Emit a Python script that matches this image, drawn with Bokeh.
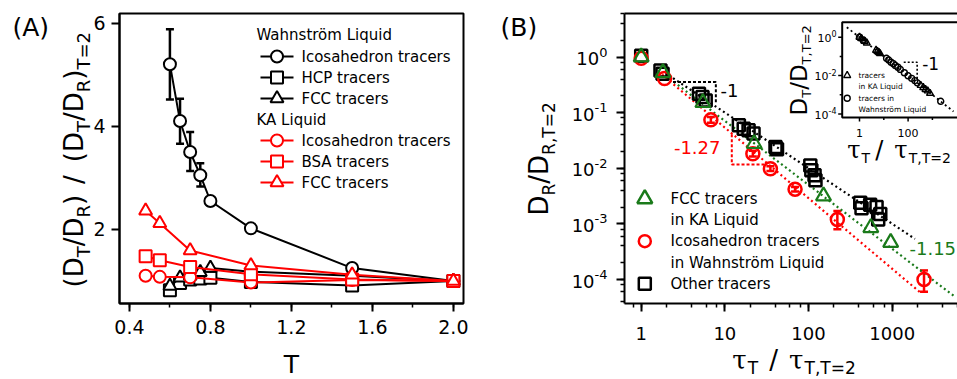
import math
from bokeh.plotting import figure
from bokeh.layouts import row
from bokeh.models import (ColumnDataSource, Whisker, TeeHead, Label, LinearAxis, LogAxis,
                          SingleIntervalTicker, PrintfTickFormatter, CustomJSTickFormatter,
                          Range1d, LogScale, LinearScale)
from bokeh.embed import file_html
from bokeh.resources import INLINE

FONT = "DejaVu Sans"
SERIF = "DejaVu Serif"
GREEN = "#1a7a1a"
RED = "#ff0000"

# ---------------- Panel A: (DT/DR)/(DT/DR)_{T=2} versus T ----------------
T_wahn = [0.6, 0.65, 0.7, 0.75, 0.8, 1.0, 1.5, 2.0]
wahn_ico = [5.2, 4.1, 3.5, 3.05, 2.55, 2.02, 1.25, 1.0]
wahn_hcp = [0.82, 0.96, 1.03, 1.05, 1.06, 0.98, 0.91, 1.0]
wahn_fcc = [0.9, 1.06, 1.1, 1.17, 1.25, 1.18, 1.1, 1.0]
T_err = [0.6, 0.65, 0.7, 0.75, 0.8]
wahn_ico_hi = [5.88, 4.53, 3.89, 3.28, 2.62]
wahn_ico_lo = [4.52, 3.66, 3.13, 2.83, 2.47]

T_ka = [0.48, 0.55, 0.7, 1.0, 1.5, 2.0]
ka_ico = [1.10, 1.08, 1.07, 0.97, 1.02, 1.0]
ka_bsa = [1.48, 1.40, 1.27, 1.13, 1.03, 1.0]
ka_fcc = [2.36, 2.12, 1.59, 1.30, 1.12, 1.0]

A_LEGEND_W = ["Icosahedron tracers", "HCP tracers", "FCC tracers"]
A_LEGEND_KA = ["Icosahedron tracers", "BSA tracers", "FCC tracers"]

# ---------------- Panel B: DR/DR,T=2 versus tau_T/tau_T,T=2 ----------------
fcc_tau = [1.0, 1.82, 5.46, 22.4, 151, 555, 959]
fcc_D = [1.0, 0.52, 0.151, 0.0276, 0.00316, 0.00085, 0.00046]

ico_tau = [1.0, 1.9, 6.8, 21.6, 35, 69, 221, 2400]
ico_D = [0.95, 0.41, 0.074, 0.0182, 0.0098, 0.0042, 0.0012, 0.0001]
ico_err_tau = [6.8, 21.6, 35, 69, 221, 2400]
ico_err_hi = [0.083, 0.0205, 0.0108, 0.0046, 0.0017, 0.000145]
ico_err_lo = [0.066, 0.0162, 0.0089, 0.0038, 0.00080, 0.00006]

other_tau = [1.0, 1.7, 1.8, 4.9, 5.4, 5.9, 14.7, 16.8, 19.2, 22.0, 40.3, 42.0,
             105, 108, 118, 121, 415, 430, 545, 650, 680, 720]
other_D = [1.05, 0.57, 0.50, 0.218, 0.19, 0.165, 0.059, 0.051, 0.048, 0.042, 0.024, 0.022,
           0.0112, 0.0092, 0.0075, 0.0061, 0.0024, 0.0019, 0.0022, 0.0020, 0.0012, 0.0015]

# power-law guides (slopes -1, -1.15, -1.27)
fit1_tau, fit1_D = [2.4, 1870], [0.417, 5.35e-4]
fit115_tau, fit115_D = [2.2, 5400], [0.404, 5.1e-5]
fit127_tau, fit127_D = [1.6, 2200], [0.550, 5.7e-5]
# slope markers
tri1_tau, tri1_D = [2.4, 7.8, 7.8], [0.355, 0.355, 0.141]
tri127_tau, tri127_D = [12.1, 12.1, 31.8], [0.041, 0.0117, 0.0117]

B_YTICKS = [1, 1e-1, 1e-2, 1e-3, 1e-4]
B_YEXP = ["0", "-1", "-2", "-3", "-4"]

# ---------------- Inset: DT/DT,T=2 versus tau_T/tau_T,T=2 ----------------
in_ka_tau = [1.0, 1.2, 1.6, 2.0, 4.8, 5.5, 6.3, 7.0, 330, 420, 520, 640, 800]
in_ka_D = [1.0, 0.85, 0.62, 0.5, 0.21, 0.18, 0.16, 0.14, 0.0031, 0.0024, 0.0019, 0.0016, 0.0012]
in_wa_tau = [1.0, 1.4, 13, 16, 20, 25, 30, 38, 48, 70, 100, 140, 190, 240, 2200]
in_wa_D = [1.0, 0.72, 0.08, 0.065, 0.05, 0.042, 0.034, 0.027, 0.021, 0.014, 0.0098,
           0.0072, 0.0055, 0.0042, 0.00046]
in_fit_tau, in_fit_D = [0.3, 7400], [3.3, 1.35e-4]
in_tri_tau, in_tri_D = [66, 236, 236], [0.050, 0.050, 0.0068]
IN_YTICKS = [1, 1e-2, 1e-4]
IN_YEXP = ["0", "-2", "-4"]
IN_YMINOR = [1e-1, 1e-3]
IN_XTICKS = [1, 100]
IN_XLABELS = ["1", "100"]
IN_XMINOR = [10, 1000]

# ---------------- text helpers ----------------
EM = {' ': .318, '(': .390, ')': .390, '/': .337, '=': .838, '-': .361, ',': .318, '.': .318,
      'D': .770, 'R': .695, 'T': .611, 'A': .684, 'B': .686}
for d in "0123456789":
    EM[d] = .636
MID = 0.30      # height of the "middle" text baseline above the alphabetic one, in em


def text_width(s, size, font=FONT):
    if font == SERIF:
        return sum(.60 if c == 'τ' else EM.get(c, .6) for c in s) * size
    return sum(EM.get(c, .6) for c in s) * size


def run_text(fig, x, y, parts, angle=0.0, color="black"):
    """Runs of text (with sub/superscript shifts) laid one after another along a baseline
    that starts at canvas (x, y)."""
    adv = 0.0
    for part in parts:
        if part[0] is None:
            adv += part[1]
            continue
        txt, size, shift = part[:3]
        font = part[3] if len(part) > 3 else FONT
        up = shift + MID * size
        if angle:
            lx, ly = x - up, y - adv
        else:
            lx, ly = x + adv, y - up
        fig.add_layout(Label(x=lx, y=ly, x_units="canvas", y_units="canvas", text=txt,
                             angle=angle, text_font=font, text_font_size=f"{size}px",
                             text_color=color, text_baseline="middle", text_align="left"))
        adv += text_width(txt, size, font)


def plain(fig, x, y, txt, size, color="black", align="left"):
    fig.add_layout(Label(x=x, y=y, x_units="canvas", y_units="canvas", text=txt,
                         text_font=FONT, text_font_size=f"{size}px", text_color=color,
                         text_align=align, text_baseline="middle"))


def style_axis(ax, size, standoff):
    ax.axis_line_width = 2
    ax.axis_line_color = "black"
    ax.major_tick_line_width = 2
    ax.minor_tick_line_width = 1.5
    ax.major_tick_in = 0
    ax.major_tick_out = 8
    ax.minor_tick_in = 0
    ax.minor_tick_out = 4
    ax.major_label_text_font = FONT
    ax.major_label_text_font_size = size
    ax.major_label_text_color = "black"
    ax.major_label_standoff = standoff


H = 379
BOX_TOP, BOX_BOTTOM = 13, 303          # canvas rows of the plotting boxes


def base_figure(width, **kw):
    p = figure(width=width, height=H, output_backend="svg", toolbar_location=None,
               x_axis_location=None, y_axis_location=None, min_border=0,
               min_border_left=0, min_border_right=0, min_border_top=0, min_border_bottom=0,
               **kw)
    p.grid.visible = False
    p.outline_line_color = None
    p.background_fill_color = "white"
    p.border_fill_color = "white"
    # a pixel coordinate system (y downward) for legend keys
    p.extra_x_ranges["px"] = Range1d(0, width)
    p.extra_y_ranges["px"] = Range1d(H, 0)
    p.extra_x_scales["px"] = LinearScale()
    p.extra_y_scales["px"] = LinearScale()
    return p


PX = dict(x_range_name="px", y_range_name="px")

# =============================== Panel A ===============================
WA = 480
A_LEFT, A_RIGHT = 119, 463
A_X0, A_X1 = 0.351, 2.050               # T at the box edges
A_Y0, A_Y1 = 0.563, 6.185               # ratio at the box edges
ax_scale = (A_RIGHT - A_LEFT) / (A_X1 - A_X0)
ay_scale = (BOX_BOTTOM - BOX_TOP) / (A_Y1 - A_Y0)
pA = base_figure(WA,
                 x_range=Range1d(A_X0 - A_LEFT / ax_scale, A_X1 + (WA - A_RIGHT) / ax_scale),
                 y_range=Range1d(A_Y0 - (H - BOX_BOTTOM) / ay_scale, A_Y1 + BOX_TOP / ay_scale))

xa = LinearAxis(fixed_location=A_Y0, bounds=(A_X0, A_X1),
                ticker=SingleIntervalTicker(interval=0.4, num_minor_ticks=2),
                formatter=PrintfTickFormatter(format="%.1f"))
ya = LinearAxis(fixed_location=A_X0, bounds=(A_Y0, A_Y1),
                ticker=SingleIntervalTicker(interval=2, num_minor_ticks=0),
                formatter=PrintfTickFormatter(format="%d"))
style_axis(xa, "19px", 8)
style_axis(ya, "19px", 6)
pA.add_layout(xa, "below")
pA.add_layout(ya, "left")
pA.quad(left=[A_X0], right=[A_X1], bottom=[A_Y0], top=[A_Y1], fill_color=None,
        line_color="black", line_width=2)

errA = ColumnDataSource(dict(T=T_err, hi=wahn_ico_hi, lo=wahn_ico_lo))
pA.add_layout(Whisker(source=errA, base="T", upper="hi", lower="lo", line_width=2.5,
                      line_color="black", level="underlay",
                      upper_head=TeeHead(size=8, line_width=2.5, line_color="black"),
                      lower_head=TeeHead(size=8, line_width=2.5, line_color="black")))

MARKERS = ["circle", "square", "triangle"]
for vals, marker in zip([wahn_ico, wahn_hcp, wahn_fcc], MARKERS):
    pA.line(T_wahn, vals, line_color="black", line_width=2)
    pA.scatter(T_wahn, vals, marker=marker, size=13 if marker == "triangle" else 12,
               line_color="black", line_width=2, fill_color="white")
for vals, marker in zip([ka_ico, ka_bsa, ka_fcc], MARKERS):
    pA.line(T_ka, vals, line_color=RED, line_width=2)
    pA.scatter(T_ka, vals, marker=marker, size=13 if marker == "triangle" else 12,
               line_color=RED, line_width=2, fill_color="white")

# legend: two groups, each with a heading
LEG_X0, LEG_X1, LEG_TX = 260, 293, 301
for heading, hy, rows, labels, color in [("Wahnström Liquid", 34, [56, 77, 98], A_LEGEND_W, "black"),
                                         ("KA Liquid", 119, [140, 161, 182], A_LEGEND_KA, RED)]:
    plain(pA, 256, hy, heading, 15)
    pA.segment(x0=[LEG_X0] * 3, x1=[LEG_X1] * 3, y0=rows, y1=rows, line_color=color,
               line_width=2, **PX)
    for yy, marker, lab in zip(rows, MARKERS, labels):
        pA.scatter([(LEG_X0 + LEG_X1) / 2], [yy], marker=marker,
                   size=13 if marker == "triangle" else 12, line_color=color, line_width=2,
                   fill_color="white", **PX)
        plain(pA, LEG_TX, yy, lab, 15)

plain(pA, 12, 27, "(A)", 25)
plain(pA, 291, 364, "T", 25, align="center")
run_text(pA, 81.5, 287, [("(", 26, 0), ("D", 26, 0), ("T", 18, -7), ("/", 26, 0), ("D", 26, 0),
                         ("R", 18, -7), (")", 26, 0), (None, 11), ("/", 26, 0), (None, 13),
                         ("(", 26, 0), ("D", 26, 0), ("T", 18, -7), ("/", 26, 0), ("D", 26, 0),
                         ("R", 18, -7), (")", 26, 0), ("T=2", 18, -7)], angle=math.pi / 2)

# =============================== Panel B ===============================
WB = 477
B_LEFT = 144
BX_ONE, BX_DEC = 160.7, 83.67           # canvas x of tau=1, px per decade
BY_ONE, BY_DEC = 56.5, 55.6             # canvas y of D=1, px per decade


def bx_val(px):
    return 10 ** ((px - BX_ONE) / BX_DEC)


def by_val(py):
    return 10 ** ((BY_ONE - py) / BY_DEC)


pB = base_figure(WB, x_axis_type="log", y_axis_type="log",
                 x_range=Range1d(bx_val(0), bx_val(WB)), y_range=Range1d(by_val(H), by_val(0)))
B_X0, B_XEND = bx_val(B_LEFT), bx_val(WB)
B_Y0, B_Y1 = by_val(BOX_BOTTOM), by_val(BOX_TOP)

xb = LogAxis(fixed_location=B_Y0, bounds=(B_X0, B_XEND),
             formatter=PrintfTickFormatter(format="%d"))
yb = LogAxis(fixed_location=B_X0, bounds=(B_Y0, B_Y1),
             formatter=CustomJSTickFormatter(code="return ''"))
style_axis(xb, "18px", 15)
style_axis(yb, "18px", 6)
pB.add_layout(xb, "below")
pB.add_layout(yb, "left")
pB.segment(x0=[B_X0], x1=[B_XEND * 2], y0=[B_Y1], y1=[B_Y1], line_color="black", line_width=2)

for v, e in zip(B_YTICKS, B_YEXP):
    sy = BY_ONE - BY_DEC * math.log10(v)
    total = text_width("10", 18) + text_width(e, 13)
    run_text(pB, 127 - total, sy + 7, [("10", 18, 0), (e, 13, 8)])

dot = dict(line_width=2.2, line_dash="2 3")
pB.line(fit1_tau, fit1_D, line_color="black", **dot)
pB.line(fit115_tau, fit115_D, line_color=GREEN, **dot)
pB.line(fit127_tau, fit127_D, line_color=RED, **dot)
pB.line(tri1_tau, tri1_D, line_color="black", line_width=2, line_dash="3 2")
pB.line(tri127_tau, tri127_D, line_color=RED, line_width=2, line_dash="3 2")

pB.scatter(other_tau, other_D, marker="square", size=12, line_color="black",
           line_width=2.5, fill_color=None)
errB = ColumnDataSource(dict(t=ico_err_tau, hi=ico_err_hi, lo=ico_err_lo))
pB.add_layout(Whisker(source=errB, base="t", upper="hi", lower="lo", line_width=2.5,
                      line_color=RED,
                      upper_head=TeeHead(size=8, line_width=2.5, line_color=RED),
                      lower_head=TeeHead(size=8, line_width=2.5, line_color=RED)))
pB.scatter(ico_tau, ico_D, marker="circle", size=13, line_color=RED, line_width=2.5,
           fill_color=None)
pB.scatter(fcc_tau, fcc_D, marker="triangle", size=15, line_color=GREEN, line_width=2.2,
           fill_color=None)

# legend keys and texts
KEY_X, KEY_TX = 164.3, 190
for yy, marker, size, color, lines in [
        (198.3, "triangle", 15, GREEN, ["FCC tracers", " in KA Liquid"]),
        (240.7, "circle", 12, RED, ["Icosahedron tracers", " in Wahnström Liquid"]),
        (283.3, "square", 12, "black", ["Other tracers"])]:
    pB.scatter([KEY_X], [yy], marker=marker, size=size, line_color=color, line_width=2.5,
               fill_color=None, **PX)
    for i, txt in enumerate(lines):
        plain(pB, KEY_TX, yy + 21.5 * i, txt, 15)

plain(pB, 240, 90, "-1", 18)
plain(pB, 240, 146.7, "-1.27", 18, color=RED, align="right")
plain(pB, 429, 248, "-1.15", 18, color=GREEN)
plain(pB, 20, 27, "(B)", 25)

run_text(pB, 66.7, 215, [("D", 26, 0), ("R", 17, -7), ("/", 26, 0), ("D", 26, 0),
                         ("R,T=2", 17, -7)], angle=math.pi / 2)
run_text(pB, 251.7, 367, [("τ", 26, 0, SERIF), ("T", 17, -5.5), (None, 11), ("/", 26, 0),
                          (None, 11), ("τ", 26, 0, SERIF), ("T,T=2", 17, -5.5)])

# ---------------- inset, drawn with its own log scales over panel B ----------------
IX0, IXDEC = 379.0, 24.3     # canvas x of tau=1, px per decade
IY0, IYDEC = 36.7, 19.2      # canvas y of D=1, px per decade


def ix_val(px):
    return 10 ** ((px - IX0) / IXDEC)


def iy_val(py):
    return 10 ** ((IY0 - py) / IYDEC)


pB.extra_x_ranges["ix"] = Range1d(ix_val(0), ix_val(WB))
pB.extra_y_ranges["iy"] = Range1d(iy_val(H), iy_val(0))
pB.extra_x_scales["ix"] = LogScale()
pB.extra_y_scales["iy"] = LogScale()
ins = dict(x_range_name="ix", y_range_name="iy")

in_left, in_right = ix_val(361.7), ix_val(490)
in_top, in_bottom = iy_val(21.7), iy_val(117)
pB.quad(left=[in_left], right=[in_right], top=[in_top], bottom=[in_bottom],
        fill_color="white", line_color="black", line_width=2, **ins)


def tick_x(length):
    return in_left / 10 ** (length / IXDEC)


def tick_y(length):
    return in_bottom / 10 ** (length / IYDEC)


tick = dict(line_color="black", line_width=1.5)
pB.segment(x0=[in_left] * 3, y0=IN_YTICKS, x1=[tick_x(4)] * 3, y1=IN_YTICKS, **tick, **ins)
pB.segment(x0=[in_left] * 2, y0=IN_YMINOR, x1=[tick_x(2.5)] * 2, y1=IN_YMINOR, **tick, **ins)
pB.segment(x0=IN_XTICKS, y0=[in_bottom] * 2, x1=IN_XTICKS, y1=[tick_y(4)] * 2, **tick, **ins)
pB.segment(x0=IN_XMINOR, y0=[in_bottom] * 2, x1=IN_XMINOR, y1=[tick_y(2.5)] * 2, **tick, **ins)

pB.line(in_fit_tau, in_fit_D, line_color="black", line_width=1.8, line_dash="2 3", **ins)
pB.line(in_tri_tau, in_tri_D, line_color="black", line_width=1.6, line_dash="2 2", **ins)
pB.scatter(in_ka_tau, in_ka_D, marker="triangle", size=7, line_color="black",
           line_width=1.4, fill_color=None, **ins)
pB.scatter(in_wa_tau, in_wa_D, marker="circle", size=6, line_color="black",
           line_width=1.4, fill_color=None, **ins)

for yy, marker, size, lines in [(75, "triangle", 7, ["tracers", " in KA Liquid"]),
                                (97.7, "circle", 6, ["tracers in", " Wahnström Liquid"])]:
    pB.scatter([366.7], [yy], marker=marker, size=size, line_color="black", line_width=1.4,
               fill_color=None, **PX)
    for i, txt in enumerate(lines):
        plain(pB, 378, yy + 11 * i, txt, 7.5)
plain(pB, 441.7, 63, "-1", 17)

for v, e in zip(IN_YTICKS, IN_YEXP):
    py = IY0 - IYDEC * math.log10(v)
    total = text_width("10", 11) + text_width(e, 8)
    run_text(pB, 356 - total, py + 4, [("10", 11, 0), (e, 8, 5)])
for v, s in zip(IN_XTICKS, IN_XLABELS):
    plain(pB, IX0 + IXDEC * math.log10(v), 132.5, s, 11, align="center")

run_text(pB, 325, 115, [("D", 23, 0), ("T", 13, -5), ("/", 23, 0), ("D", 23, 0),
                        ("T,T=2", 13, -5)], angle=math.pi / 2)
run_text(pB, 366.7, 157, [("τ", 24, 0, SERIF), ("T", 14, -5), (None, 5), ("/", 24, 0),
                          (None, 11), ("τ", 24, 0, SERIF), ("T,T=2", 14, -5)])

layout = row(pA, pB)
open("out.html", "w").write(file_html(layout, INLINE))
